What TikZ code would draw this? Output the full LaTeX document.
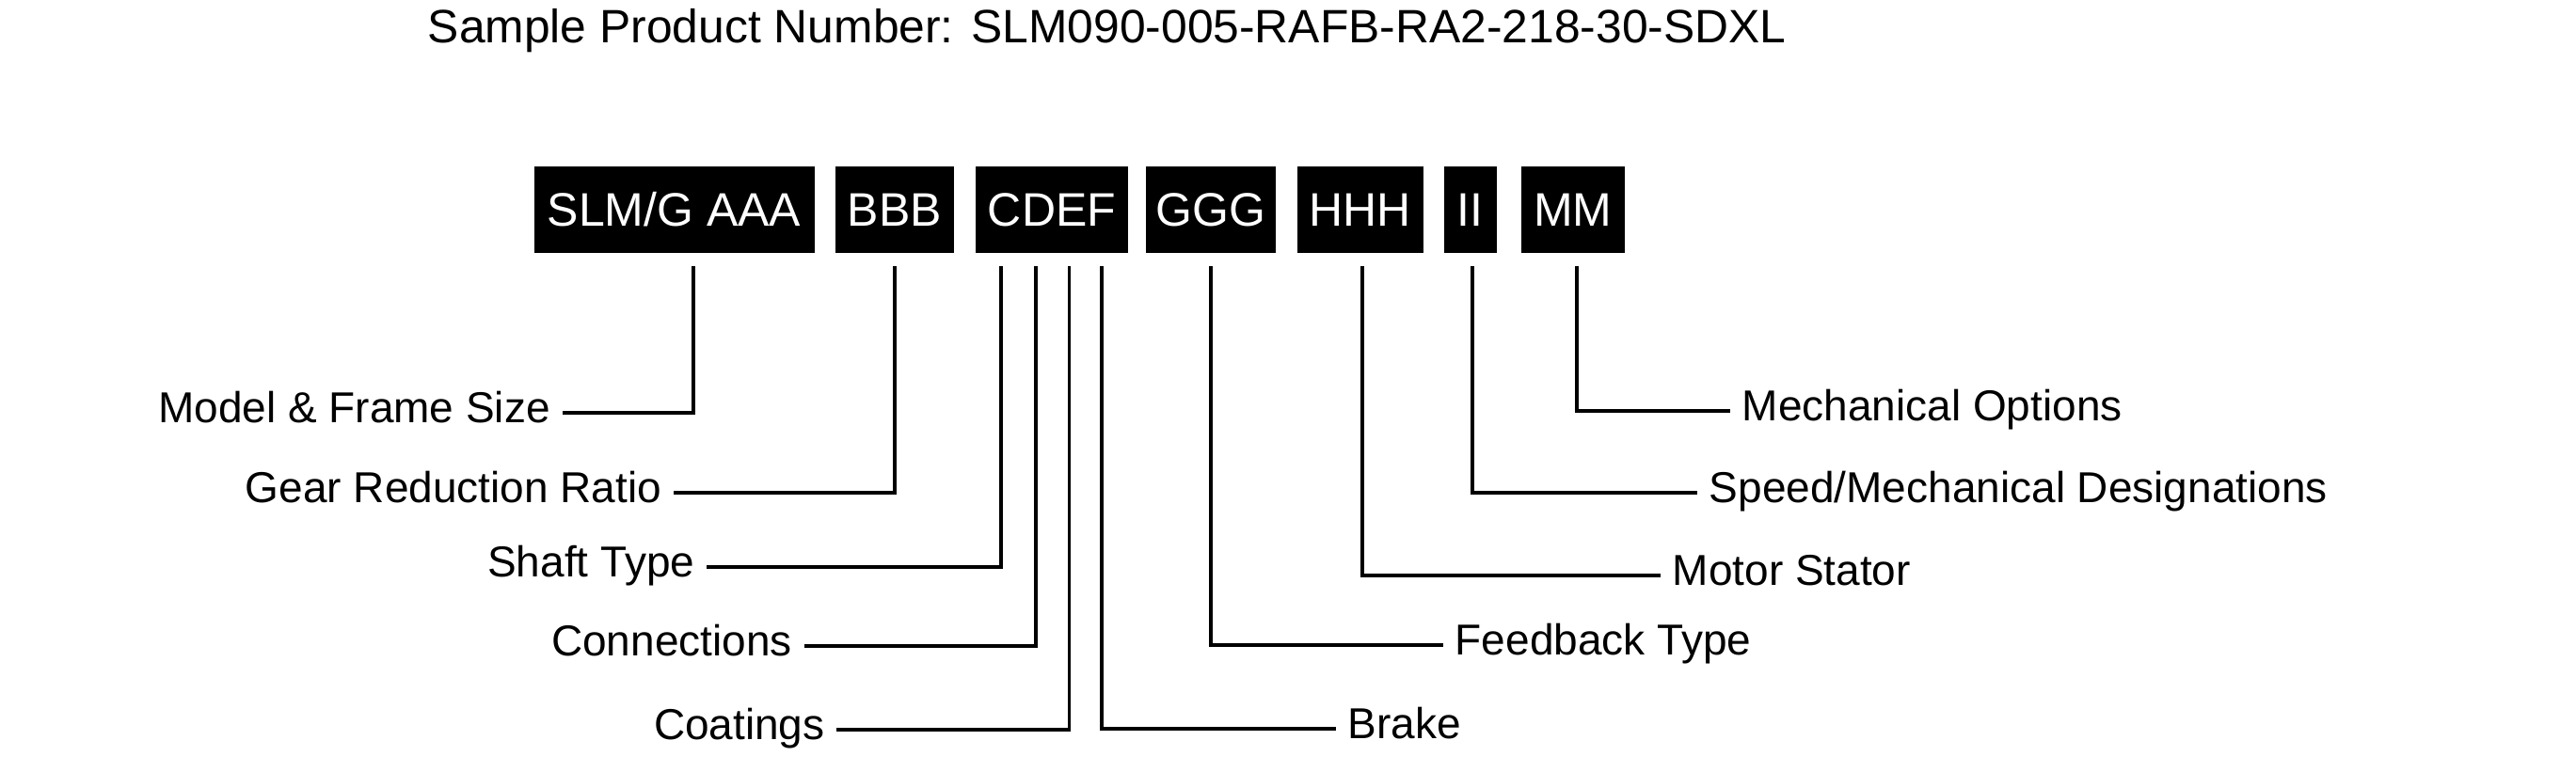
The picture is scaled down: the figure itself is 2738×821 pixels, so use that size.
\documentclass[tikz,border=0pt]{standalone}
\usepackage{fontspec}
\setmainfont{Liberation Sans}
\begin{document}
\begin{tikzpicture}[x=0.25pt,y=-0.25pt,
  codebox/.style={fill=black,text=white,inner sep=0pt,font=\fontsize{12.5}{15}\selectfont,minimum height=23pt},
  lbl/.style={inner ysep=0pt,inner xsep=3pt,font=\fontsize{11.5}{14}\selectfont},
  conn/.style={line width=0.95pt}]
\useasboundingbox (0,0) rectangle (2738,821);
\node[anchor=base west,inner sep=0pt,font=\fontsize{12.45}{15}\selectfont] (title) at (454,46) {Sample Product Number: SLM090-005-RAFB-RA2-218-30-SDXL};
% code boxes
\node[codebox,minimum width=74.5pt] (bA) at (716.6,223) {SLM/G AAA};
\node[codebox,minimum width=31.6pt] (bB) at (950.7,223) {BBB};
\node[codebox,minimum width=40.6pt] (bC) at (1118,223) {CDEF};
\node[codebox,minimum width=34.4pt] (bG) at (1286.8,223) {GGG};
\node[codebox,minimum width=33.6pt] (bH) at (1445.7,223) {HHH};
\node[codebox,minimum width=14pt] (bI) at (1562.7,223) {II};
\node[codebox,minimum width=27.65pt] (bM) at (1671.8,223) {MM};
% connector tops
\coordinate (t1) at (737,283);
\coordinate (t2) at (951,283);
\coordinate (t3) at (1064,283);
\coordinate (t4) at (1101,283);
\coordinate (t5) at (1136.4,283);
\coordinate (t6) at (1171.3,283);
\coordinate (t7) at (1287,283);
\coordinate (t8) at (1448,283);
\coordinate (t9) at (1565,283);
\coordinate (t10) at (1676,283);
% labels left
\node[lbl,anchor=mid east] (l1) at (597.6,439) {Model \& Frame Size};
\node[lbl,anchor=mid east] (l2) at (716,524) {Gear Reduction Ratio};
\node[lbl,anchor=mid east] (l3) at (751,603) {Shaft Type};
\node[lbl,anchor=mid east] (l4) at (854.6,687) {Connections};
\node[lbl,anchor=mid east] (l5) at (889.4,776) {Coatings};
% labels right
\node[lbl,anchor=mid west] (r6) at (1420,775) {Brake};
\node[lbl,anchor=mid west] (r7) at (1534,686) {Feedback Type};
\node[lbl,anchor=mid west] (r8) at (1765,612) {Motor Stator};
\node[lbl,anchor=mid west] (r9) at (1804,524) {Speed/Mechanical Designations};
\node[lbl,anchor=mid west] (r10) at (1839,437) {Mechanical Options};
% connectors
\draw[conn] (t1) |- (l1.mid east);
\draw[conn] (t2) |- (l2.mid east);
\draw[conn] (t3) |- (l3.mid east);
\draw[conn] (t4) |- (l4.mid east);
\draw[conn] (t5) |- (l5.mid east);
\draw[conn] (t6) |- (r6.mid west);
\draw[conn] (t7) |- (r7.mid west);
\draw[conn] (t8) |- (r8.mid west);
\draw[conn] (t9) |- (r9.mid west);
\draw[conn] (t10) |- (r10.mid west);
\end{tikzpicture}
\end{document}
